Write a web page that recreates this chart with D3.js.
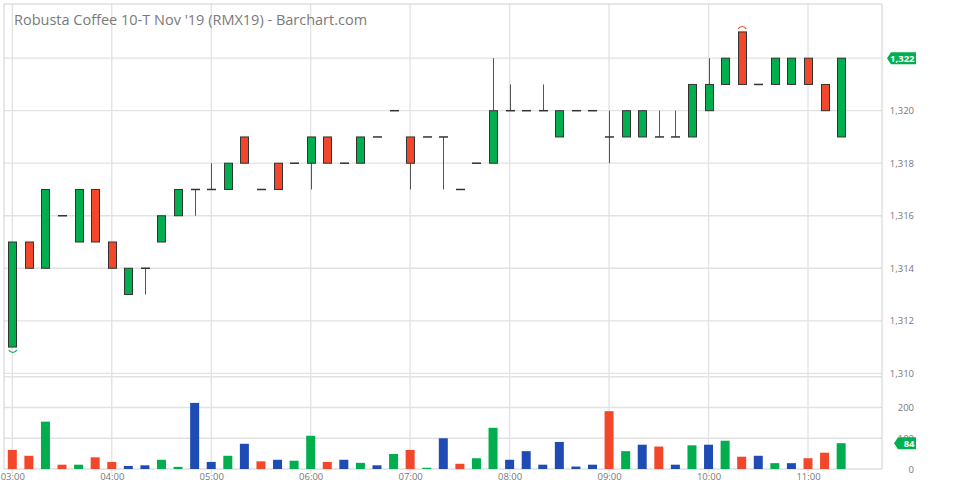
<!DOCTYPE html>
<html>
<head>
<meta charset="utf-8">
<script src="https://cdn.jsdelivr.net/npm/d3@7"></script>
<style>
  html, body { margin: 0; padding: 0; background: #fff; }
  svg { display: block; font-family: "Open Sans", "Noto Sans", sans-serif; }
</style>
</head>
<body>
<svg id="chart" width="961" height="487"></svg>
<script>
// ---------- DATA ----------
const title = "Robusta Coffee 10-T Nov '19 (RMX19) - Barchart.com";
const times = ["03:00","03:10","03:20","03:30","03:40","03:50",
  "04:00","04:10","04:20","04:30","04:40","04:50",
  "05:00","05:10","05:20","05:30","05:40","05:50",
  "06:00","06:10","06:20","06:30","06:40","06:50",
  "07:00","07:10","07:20","07:30","07:40","07:50",
  "08:00","08:10","08:20","08:30","08:40","08:50",
  "09:00","09:10","09:20","09:30","09:40","09:50",
  "10:00","10:10","10:20","10:30","10:40","10:50",
  "11:00","11:10","11:20"];
const open  = [1311,1315,1314,1316,1315,1317,1315,1313,1314,1315,1316,1317,1317,1317,1319,1317,1318,1318,1318,1319,1318,1318,1319,1320,1319,1319,1319,1317,1318,1318,1320,1320,1320,1319,1320,1320,1319,1319,1319,1319,1319,1319,1320,1321,1323,1321,1321,1321,1322,1321,1319];
const high  = [1315,1315,1317,1316,1317,1317,1315,1314,1314,1316,1317,1317,1318,1318,1319,1317,1318,1318,1319,1319,1318,1319,1319,1320,1319,1319,1319,1317,1318,1322,1321,1320,1321,1320,1320,1320,1320,1320,1320,1320,1320,1321,1322,1322,1323,1321,1322,1322,1322,1321,1322];
const low   = [1311,1314,1314,1316,1315,1315,1314,1313,1313,1315,1316,1316,1317,1317,1318,1317,1317,1318,1317,1318,1318,1318,1319,1320,1317,1319,1317,1317,1318,1318,1320,1320,1320,1319,1320,1320,1318,1319,1319,1319,1319,1319,1320,1321,1321,1321,1321,1321,1321,1320,1319];
const close = [1315,1314,1317,1316,1317,1315,1314,1314,1314,1316,1317,1317,1317,1318,1318,1317,1317,1318,1319,1318,1318,1319,1319,1320,1318,1319,1319,1317,1318,1320,1320,1320,1320,1320,1320,1320,1319,1320,1320,1319,1319,1321,1321,1322,1321,1321,1322,1322,1321,1320,1322];
const volume = [62,43,154,14,14,38,23,10,12,30,7,215,23,43,82,25,30,27,108,23,30,20,12,49,62,4,100,17,35,134,30,58,14,88,8,14,188,58,79,73,14,77,79,92,40,43,19,19,35,53,84];
const priorClose = 1316;
const priceTicks = [1310,1312,1314,1316,1318,1320,1322];
const volumeTicks = [0,100,200];
const hourLabels = ["03:00","04:00","05:00","06:00","07:00","08:00","09:00","10:00","11:00"];

// ---------- SETUP ----------
const GREEN = "#00ae4e", RED = "#f2472a", BLUE = "#1f4cb4";
const GRID = "#e2e2e2", FRAME = "#d0d0d0", TEXT = "#777";
const svg = d3.select("#chart");
const parse = d3.timeParse("%H:%M");
const L = 4, R = 882, T = 4, B = 469;

const x = d3.scaleTime().domain([parse("03:00"), parse("11:00")]).range([12.3, 808]);
const y = d3.scalePoint ? d3.scaleLinear().domain([1310, 1320]).range([373.3, 110.7]) : null;
const yv = d3.scaleLinear().domain([0, 200]).range([469, 407.5]);

const data = times.map((t, i) => ({
  t: parse(t), o: open[i], h: high[i], l: low[i], c: close[i], v: volume[i],
  pc: i === 0 ? priorClose : close[i - 1]
}));

svg.append("rect").attr("width", 961).attr("height", 487).attr("fill", "#fff");

// grid
const grid = svg.append("g");
grid.selectAll("line.h").data(priceTicks).join("line")
  .attr("x1", L).attr("x2", R).attr("y1", d => y(d)).attr("y2", d => y(d))
  .attr("stroke", GRID).attr("stroke-width", 1.3);
grid.selectAll("line.vh").data([100, 200, 300]).join("line")
  .attr("x1", L).attr("x2", R).attr("y1", d => yv(d)).attr("y2", d => yv(d))
  .attr("stroke", GRID).attr("stroke-width", 1.3);
grid.selectAll("line.v").data(hourLabels).join("line")
  .attr("x1", d => x(parse(d))).attr("x2", d => x(parse(d)))
  .attr("y1", T).attr("y2", B + 5)
  .attr("stroke", GRID).attr("stroke-width", 1.3);

// frame
svg.append("path")
  .attr("d", `M${L},${B} L${L},${T} L${R},${T} L${R},${B} Z`)
  .attr("fill", "none").attr("stroke", FRAME).attr("stroke-width", 1);

// title
svg.append("text").attr("x", 14).attr("y", 25).text(title)
  .attr("font-size", 14.5).attr("fill", "#7a7a7a");

// volume bars
svg.append("g").selectAll("rect").data(data).join("rect")
  .attr("x", d => x(d.t) - 4.5).attr("width", 9)
  .attr("y", d => yv(d.v)).attr("height", d => yv(0) - yv(d.v))
  .attr("fill", d => d.c > d.pc ? GREEN : d.c < d.pc ? RED : BLUE);

// wicks
const cg = svg.append("g");
cg.selectAll("line.w").data(data).join("line")
  .attr("x1", d => Math.round(x(d.t)) + 0.5).attr("x2", d => Math.round(x(d.t)) + 0.5)
  .attr("y1", d => y(d.h)).attr("y2", d => y(d.l))
  .attr("stroke", "#555").attr("stroke-width", 1);
// bodies
cg.selectAll("rect").data(data.filter(d => d.o !== d.c)).join("rect")
  .attr("x", d => Math.round(x(d.t)) - 4 + 0.5).attr("width", 8)
  .attr("y", d => y(Math.max(d.o, d.c))).attr("height", d => Math.abs(y(d.o) - y(d.c)))
  .attr("fill", d => d.c > d.o ? GREEN : RED)
  .attr("stroke", "#333").attr("stroke-width", 1);
// doji dashes
cg.selectAll("line.d").data(data.filter(d => d.o === d.c)).join("line")
  .attr("x1", d => Math.round(x(d.t)) - 4).attr("x2", d => Math.round(x(d.t)) + 5)
  .attr("y1", d => y(d.c)).attr("y2", d => y(d.c))
  .attr("stroke", "#333").attr("stroke-width", 1.5);

// high / low markers
const hiIdx = d3.maxIndex(high), loIdx = d3.minIndex(low);
const hi = data[hiIdx], lo = data[loIdx];
svg.append("path")
  .attr("d", `M${x(hi.t) - 3.5},${y(hi.h) - 3} A4.5,4.5 0 0 1 ${x(hi.t) + 4.5},${y(hi.h) - 3}`)
  .attr("fill", "none").attr("stroke", RED).attr("stroke-width", 1.2);
svg.append("path")
  .attr("d", `M${x(lo.t) - 3.5},${y(lo.l) + 3} A4.5,4.5 0 0 0 ${x(lo.t) + 4.5},${y(lo.l) + 3}`)
  .attr("fill", "none").attr("stroke", GREEN).attr("stroke-width", 1.2);

// price axis
const fmt = d3.format(",");
const pa = svg.append("g").attr("transform", `translate(914,0)`)
  .call(d3.axisLeft(y).tickValues(priceTicks).tickFormat(fmt).tickSize(0).tickPadding(0));
pa.select(".domain").remove();
pa.selectAll("text").attr("font-size", 9.5).attr("fill", TEXT).attr("font-family", "Open Sans");

// volume axis
const va = svg.append("g").attr("transform", `translate(914,0)`)
  .call(d3.axisLeft(yv).tickValues(volumeTicks).tickSize(0).tickPadding(0));
va.select(".domain").remove();
va.selectAll("text").attr("font-size", 9.5).attr("fill", TEXT).attr("font-family", "Open Sans");

// time axis
const ta = svg.append("g").attr("transform", `translate(0,${B})`)
  .call(d3.axisBottom(x).tickValues(hourLabels.map(parse)).tickFormat(d3.timeFormat("%H:%M")).tickSize(0).tickPadding(4));
ta.select(".domain").remove();
ta.selectAll("text").attr("font-size", 9.5).attr("fill", TEXT).attr("font-family", "Open Sans");

// last value tags
function tag(yy, label, x0, x1) {
  const h = 12;
  svg.append("path")
    .attr("d", `M${x0},${yy} L${x0 + 4},${yy - h / 2} L${x1},${yy - h / 2} L${x1},${yy + h / 2} L${x0 + 4},${yy + h / 2} Z`)
    .attr("fill", "#00b050");
  svg.append("text").attr("x", x1 - 1.5).attr("y", yy + 3.5)
    .attr("text-anchor", "end").attr("font-size", 9.5).attr("font-weight", "bold")
    .attr("fill", "#fff").text(label);
}
const last = data[data.length - 1];
tag(y(last.c), fmt(last.c), 887, 916);
tag(yv(last.v), String(last.v), 894, 916);
</script>
</body>
</html>
